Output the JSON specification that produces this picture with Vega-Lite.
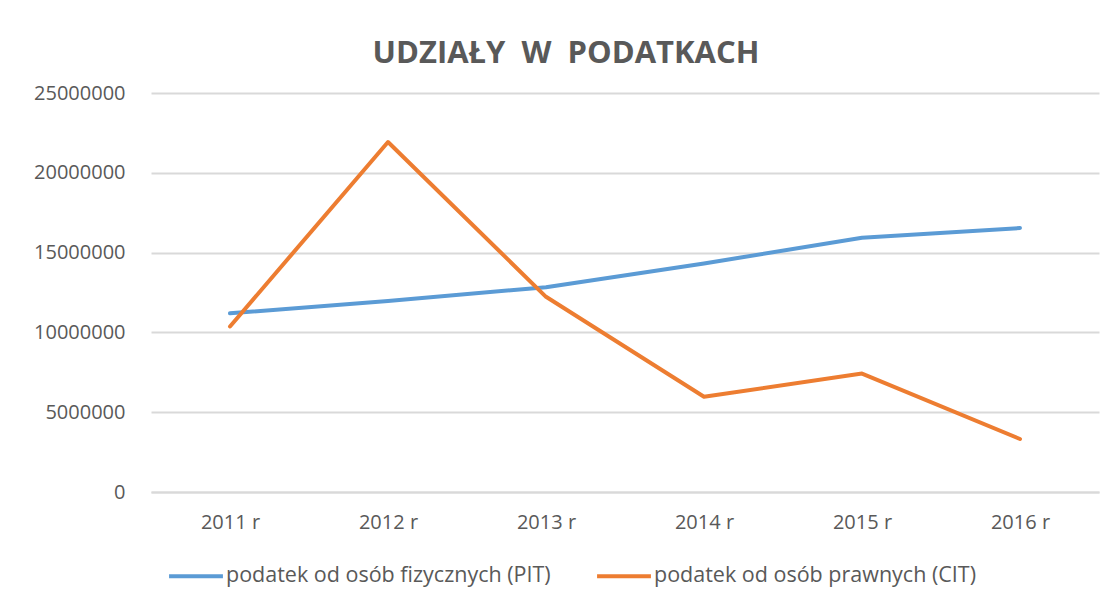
{
  "$schema": "https://vega.github.io/schema/vega-lite/v6.json",
  "width": 948,
  "height": 399,
  "autosize": {"type": "none"},
  "padding": {"left": 151, "top": 93, "right": 12, "bottom": 113},
  "background": "white",
  "title": {
    "text": "UDZIAŁY\u00a0\u00a0W\u00a0\u00a0PODATKACH",
    "font": "Open Sans",
    "fontSize": 31,
    "fontWeight": "bold",
    "color": "#595959",
    "anchor": "middle",
    "frame": "group",
    "dx": -59,
    "offset": 13
  },
  "data": {
    "values": [
      {"rok": "2011 r", "seria": "podatek od osób fizycznych (PIT)", "wartosc": 11200000},
      {"rok": "2012 r", "seria": "podatek od osób fizycznych (PIT)", "wartosc": 11970000},
      {"rok": "2013 r", "seria": "podatek od osób fizycznych (PIT)", "wartosc": 12830000},
      {"rok": "2014 r", "seria": "podatek od osób fizycznych (PIT)", "wartosc": 14320000},
      {"rok": "2015 r", "seria": "podatek od osób fizycznych (PIT)", "wartosc": 15930000},
      {"rok": "2016 r", "seria": "podatek od osób fizycznych (PIT)", "wartosc": 16540000},
      {"rok": "2011 r", "seria": "podatek od osób prawnych (CIT)", "wartosc": 10370000},
      {"rok": "2012 r", "seria": "podatek od osób prawnych (CIT)", "wartosc": 21930000},
      {"rok": "2013 r", "seria": "podatek od osób prawnych (CIT)", "wartosc": 12230000},
      {"rok": "2014 r", "seria": "podatek od osób prawnych (CIT)", "wartosc": 5970000},
      {"rok": "2015 r", "seria": "podatek od osób prawnych (CIT)", "wartosc": 7420000},
      {"rok": "2016 r", "seria": "podatek od osób prawnych (CIT)", "wartosc": 3320000}
    ]
  },
  "mark": {"type": "line", "strokeWidth": 4, "strokeCap": "round", "strokeJoin": "round"},
  "encoding": {
    "x": {
      "field": "rok",
      "type": "ordinal",
      "title": null,
      "scale": {"type": "point", "padding": 0.5},
      "axis": {
        "labelAngle": 0,
        "labelFont": "Open Sans",
        "labelFontSize": 20,
        "labelColor": "#595959",
        "labelPadding": 20,
        "ticks": false,
        "domain": true,
        "domainColor": "#D9D9D9",
        "domainWidth": 2,
        "grid": false
      }
    },
    "y": {
      "field": "wartosc",
      "type": "quantitative",
      "title": null,
      "scale": {"domain": [0, 25000000], "nice": false},
      "axis": {
        "values": [0, 5000000, 10000000, 15000000, 20000000, 25000000],
        "format": "d",
        "labelFont": "Open Sans",
        "labelFontSize": 20,
        "labelColor": "#595959",
        "labelPadding": 26,
        "ticks": false,
        "domain": false,
        "grid": true,
        "gridColor": "#D9D9D9",
        "gridWidth": 2
      }
    },
    "color": {
      "field": "seria",
      "type": "nominal",
      "title": null,
      "scale": {
        "domain": ["podatek od osób fizycznych (PIT)", "podatek od osób prawnych (CIT)"],
        "range": ["#5B9BD5", "#ED7D31"]
      },
      "legend": {
        "orient": "none",
        "legendX": 16,
        "legendY": 454,
        "direction": "horizontal",
        "symbolType": "stroke",
        "symbolSize": 2900,
        "symbolStrokeWidth": 4,
        "labelFont": "Open Sans",
        "labelFontSize": 21.5,
        "labelColor": "#595959",
        "labelOffset": 1,
        "columnPadding": 38,
        "labelLimit": 400
      }
    }
  },
  "config": {
    "view": {"stroke": null}
  }
}
